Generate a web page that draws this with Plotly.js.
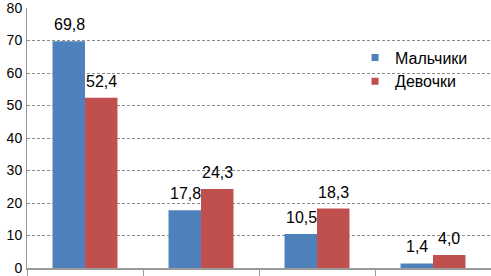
<!DOCTYPE html>
<html>
<head>
<meta charset="utf-8">
<script src="https://cdn.plot.ly/plotly-3.0.1.min.js"></script>
<style>html,body{margin:0;padding:0;background:#fff;}#chart{width:491px;height:276px;}</style>
</head>
<body>
<div id="chart"></div>
<script>
const categories = ['Группа 1', 'Группа 2', 'Группа 3', 'Группа 4'];
const boys = [69.8, 17.8, 10.5, 1.4];
const girls = [52.4, 24.3, 18.3, 4.0];
const seriesNames = ['Мальчики', 'Девочки'];
const seriesColors = ['#4F81BD', '#C0504D'];
const yTicks = [0, 10, 20, 30, 40, 50, 60, 70, 80];

const font = 'Liberation Sans, Arial, sans-serif';
const values = [boys, girls];
const traces = values.map((v, i) => ({
  type: 'bar', name: seriesNames[i], x: categories, y: v, showlegend: false,
  marker: {color: seriesColors[i]}, hoverinfo: 'skip'
}));
// legend entries with small square swatches
seriesNames.forEach((n, i) => traces.push({
  type: 'scatter', mode: 'markers', name: n, x: [null], y: [null],
  marker: {symbol: 'square', size: 7, color: seriesColors[i]}
}));
// value labels above bars
const fmt = v => v.toFixed(1).replace('.', ',');
const annotations = [];
values.forEach((v, i) => v.forEach((val, j) => annotations.push({
  x: categories[j], y: val, xref: 'x', yref: 'y', text: fmt(val), showarrow: false,
  yanchor: 'bottom', yshift: 6, xshift: (i === 0 ? -16 : 16),
  font: {size: 16, family: font, color: '#000'}
})));
const layout = {
  width: 491, height: 276,
  margin: {l: 27, r: 0, t: 8, b: 8},
  separators: ', ',
  barmode: 'group', bargap: 0.44, bargroupgap: 0,
  paper_bgcolor: '#fff', plot_bgcolor: '#fff',
  font: {family: font, size: 14, color: '#000'},
  showlegend: true, annotations: annotations,
  legend: {x: 0.707, y: 0.875, xanchor: 'left', yanchor: 'top', bgcolor: 'rgba(0,0,0,0)',
           font: {size: 16, family: font, color: '#000'}, traceorder: 'normal'},
  xaxis: {type: 'category', showticklabels: false, ticks: 'outside', tickson: 'boundaries',
          ticklen: 7, tickcolor: '#9a9a9a', showline: true, linecolor: '#9a9a9a', linewidth: 1.5, showgrid: false},
  yaxis: {range: [0, 80], tickvals: yTicks, ticks: '', showline: true, linecolor: '#9a9a9a',
          showgrid: true, gridcolor: '#8c8c8c', griddash: '3px,2px', gridwidth: 1,
          zeroline: false, ticklabeloverflow: 'allow',
          tickfont: {size: 14, family: font, color: '#000'}, ticklabelstandoff: 1}
};
Plotly.newPlot('chart', traces, layout, {displayModeBar: false, staticPlot: true});
</script>
</body>
</html>
